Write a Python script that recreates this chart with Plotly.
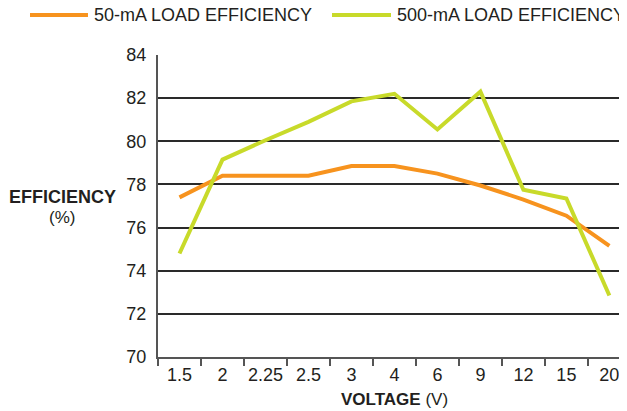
import plotly.graph_objects as go

voltages = ["1.5", "2", "2.25", "2.5", "3", "4", "6", "9", "12", "15", "20"]
eff_50mA = [77.4, 78.4, 78.4, 78.4, 78.85, 78.85, 78.5, 77.95, 77.3, 76.55, 75.15]
eff_500mA = [74.8, 79.15, 80.05, 80.9, 81.85, 82.2, 80.55, 82.3, 77.75, 77.35, 72.85]
y_ticks = [70, 72, 74, 76, 78, 80, 82, 84]
series_names = ["50-mA LOAD EFFICIENCY", "500-mA LOAD EFFICIENCY"]

ORANGE = "#F7931E"
GREEN = "#C8DA2A"
TEXT = "#231F20"
FONT = "Liberation Sans, Arial, sans-serif"

fig = go.Figure()
fig.add_trace(go.Scatter(x=voltages, y=eff_50mA, mode="lines", name=series_names[0],
                         line=dict(color=ORANGE, width=4)))
fig.add_trace(go.Scatter(x=voltages, y=eff_500mA, mode="lines", name=series_names[1],
                         line=dict(color=GREEN, width=4)))

# manual legend (paper coordinates)
leg_y = 1.1325
legend_items = [(series_names[0], ORANGE, -0.2729, -0.1493, -0.1400),
                (series_names[1], GREEN, 0.3710, 0.4968, 0.5055)]
shapes = []
annotations = []
for name, color, x0, x1, xt in legend_items:
    shapes.append(dict(type="line", xref="paper", yref="paper", x0=x0, x1=x1, y0=leg_y, y1=leg_y,
                       line=dict(color=color, width=4)))
    annotations.append(dict(text=name, xref="paper", yref="paper", x=xt, y=leg_y,
                            xanchor="left", yanchor="middle", showarrow=False,
                            font=dict(size=18, color=TEXT)))

annotations += [
    dict(text="<b>EFFICIENCY</b>", xref="paper", yref="paper", x=-0.085, y=0.53,
         xanchor="right", yanchor="middle", showarrow=False, font=dict(size=18, color=TEXT)),
    dict(text="(%)", xref="paper", yref="paper", x=-0.205, y=0.463,
         xanchor="center", yanchor="middle", showarrow=False, font=dict(size=17, color=TEXT)),
    dict(text="<b>VOLTAGE</b> (V)", xref="paper", yref="paper", x=0.505, y=-0.142,
         xanchor="center", yanchor="middle", showarrow=False, font=dict(size=17, color=TEXT)),
]

fig.update_layout(
    width=619, height=403,
    margin=dict(l=150, r=0, t=47, b=54, autoexpand=False),
    paper_bgcolor="white", plot_bgcolor="white",
    font=dict(family=FONT, size=18, color=TEXT),
    showlegend=False,
    xaxis=dict(type="category", range=[-0.5, 10.41], showgrid=False,
               showline=True, linecolor="#555555", linewidth=2,
               ticks="outside", tickson="boundaries", ticklen=7, tickwidth=1.5, tickcolor="#555555",
               tickfont=dict(size=18), tickangle=0, zeroline=False),
    yaxis=dict(range=[70, 84], tickvals=y_ticks, showgrid=True, gridcolor="#2a2a2a", gridwidth=1.7,
               showline=True, linecolor="#555555", linewidth=2, ticks="", ticklabelstandoff=6,
               tickfont=dict(size=18), zeroline=False),
    shapes=shapes,
    annotations=annotations,
)

fig.write_html("out.html")
